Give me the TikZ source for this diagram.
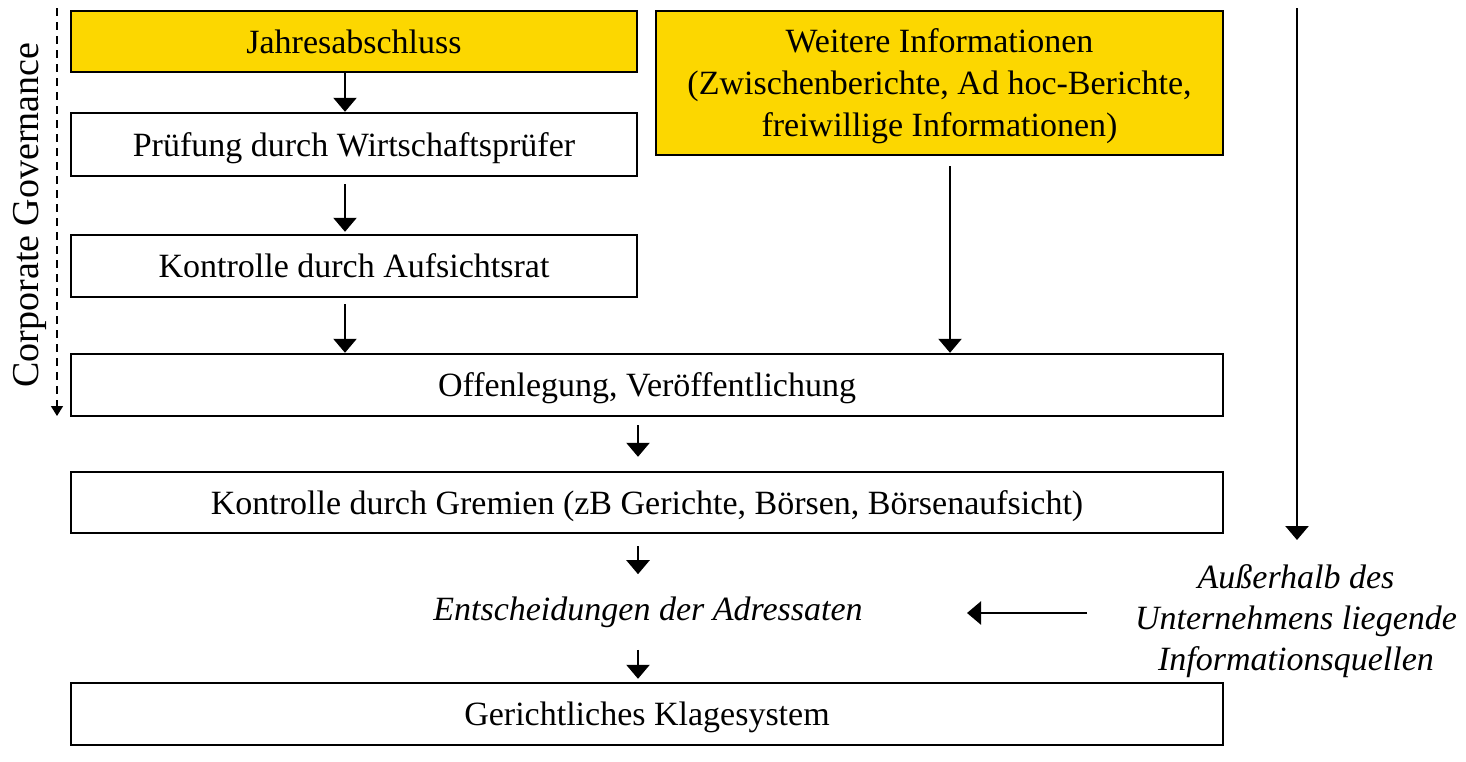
\documentclass[tikz,border=0pt]{standalone}
\usepackage{fontspec}
\setmainfont{LiberationSerif}[Extension=.ttf, UprightFont=*-Regular, ItalicFont=*-Italic, BoldFont=*-Bold, BoldItalicFont=*-BoldItalic]
\usetikzlibrary{arrows.meta}
\definecolor{boxyellow}{RGB}{252,215,0}
\begin{document}
\begin{tikzpicture}[x=0.5pt,y=-0.5pt,
  box/.style={draw=black, line width=1.2pt, fill=white, inner sep=0pt, text depth=0pt,
    font=\fontsize{17}{21}\selectfont, align=center},
  hl/.style={box, fill=boxyellow},
  arr/.style={line width=1.2pt, -{Triangle[length=7pt,width=11.5pt]}},
  lbl/.style={font=\fontsize{17}{20.5}\selectfont\itshape, align=center, inner sep=0pt}]
\useasboundingbox (0,0) rectangle (1466,761);

% left column
\node[hl, minimum width=283pt, minimum height=30.5pt] (jahr) at (354,41.5) {Jahresabschluss};
\node[box, minimum width=283pt, minimum height=31.5pt] (pruef) at (354,144.5) {Prüfung durch Wirtschaftsprüfer};
\node[box, minimum width=283pt, minimum height=31pt] (aufs) at (354,266) {Kontrolle durch Aufsichtsrat};

% right column
\node[hl, minimum width=283.5pt, minimum height=72pt] (weit) at (939.5,83)
  {Weitere Informationen\\(Zwischenberichte, Ad hoc-Berichte,\\freiwillige Informationen)};

% full-width stages
\node[box, minimum width=576pt, minimum height=31pt] (offen) at (647,385) {Offenlegung, Veröffentlichung};
\node[box, minimum width=576pt, minimum height=30.5pt] (grem) at (647,502.5) {Kontrolle durch Gremien (zB Gerichte, Börsen, Börsenaufsicht)};
\node[lbl] (ents) at (648,612) {Entscheidungen der Adressaten};
\node[box, minimum width=576pt, minimum height=31pt] (klage) at (647,714) {Gerichtliches Klagesystem};

% outside sources
\node[lbl] (ausser) at (1296,621) {Außerhalb des\\Unternehmens liegende\\Informationsquellen};

% governance bracket
\node[font=\fontsize{19}{21}\selectfont, rotate=90, inner sep=0pt] (cg) at (30,215) {Corporate Governance};
\coordinate (cgtop) at (57,8);
\coordinate (cgbot) at (57,416);
\draw[line width=0.7pt, dashed, dash pattern=on 4pt off 3pt, -{Triangle[length=5pt,width=6pt]}] (cgtop) -- (cgbot);

% column positions of the connectors
\coordinate (cl) at (345,0);
\coordinate (cm) at (638,0);
\coordinate (cr) at (950,0);

\draw[arr] (jahr.south -| cl) -- (pruef.north -| cl);
\draw[arr] ([yshift=-3.5pt]pruef.south -| cl) -- ([yshift=1pt]aufs.north -| cl);
\draw[arr] ([yshift=-3pt]aufs.south -| cl) -- (offen.north -| cl);
\draw[arr] ([yshift=-5pt]weit.south -| cr) -- (offen.north -| cr);
\draw[arr] ([yshift=-4pt]offen.south -| cm) -- ([yshift=7pt]grem.north -| cm);
\draw[arr] ([yshift=-6pt]grem.south -| cm) -- ([yshift=11pt]ents.north -| cm);
\draw[arr] ([yshift=-11pt]ents.south -| cm) -- ([yshift=1.5pt]klage.north -| cm);

% outside sources feed the decisions
\coordinate (srcR) at (1087,613);
\coordinate (srcL) at (967,613);
\draw[arr] (srcR) -- (srcL);
\coordinate (outtop) at (1297,8);
\coordinate (outbot) at (1297,540);
\draw[arr] (outtop) -- (outbot);
\end{tikzpicture}
\end{document}
